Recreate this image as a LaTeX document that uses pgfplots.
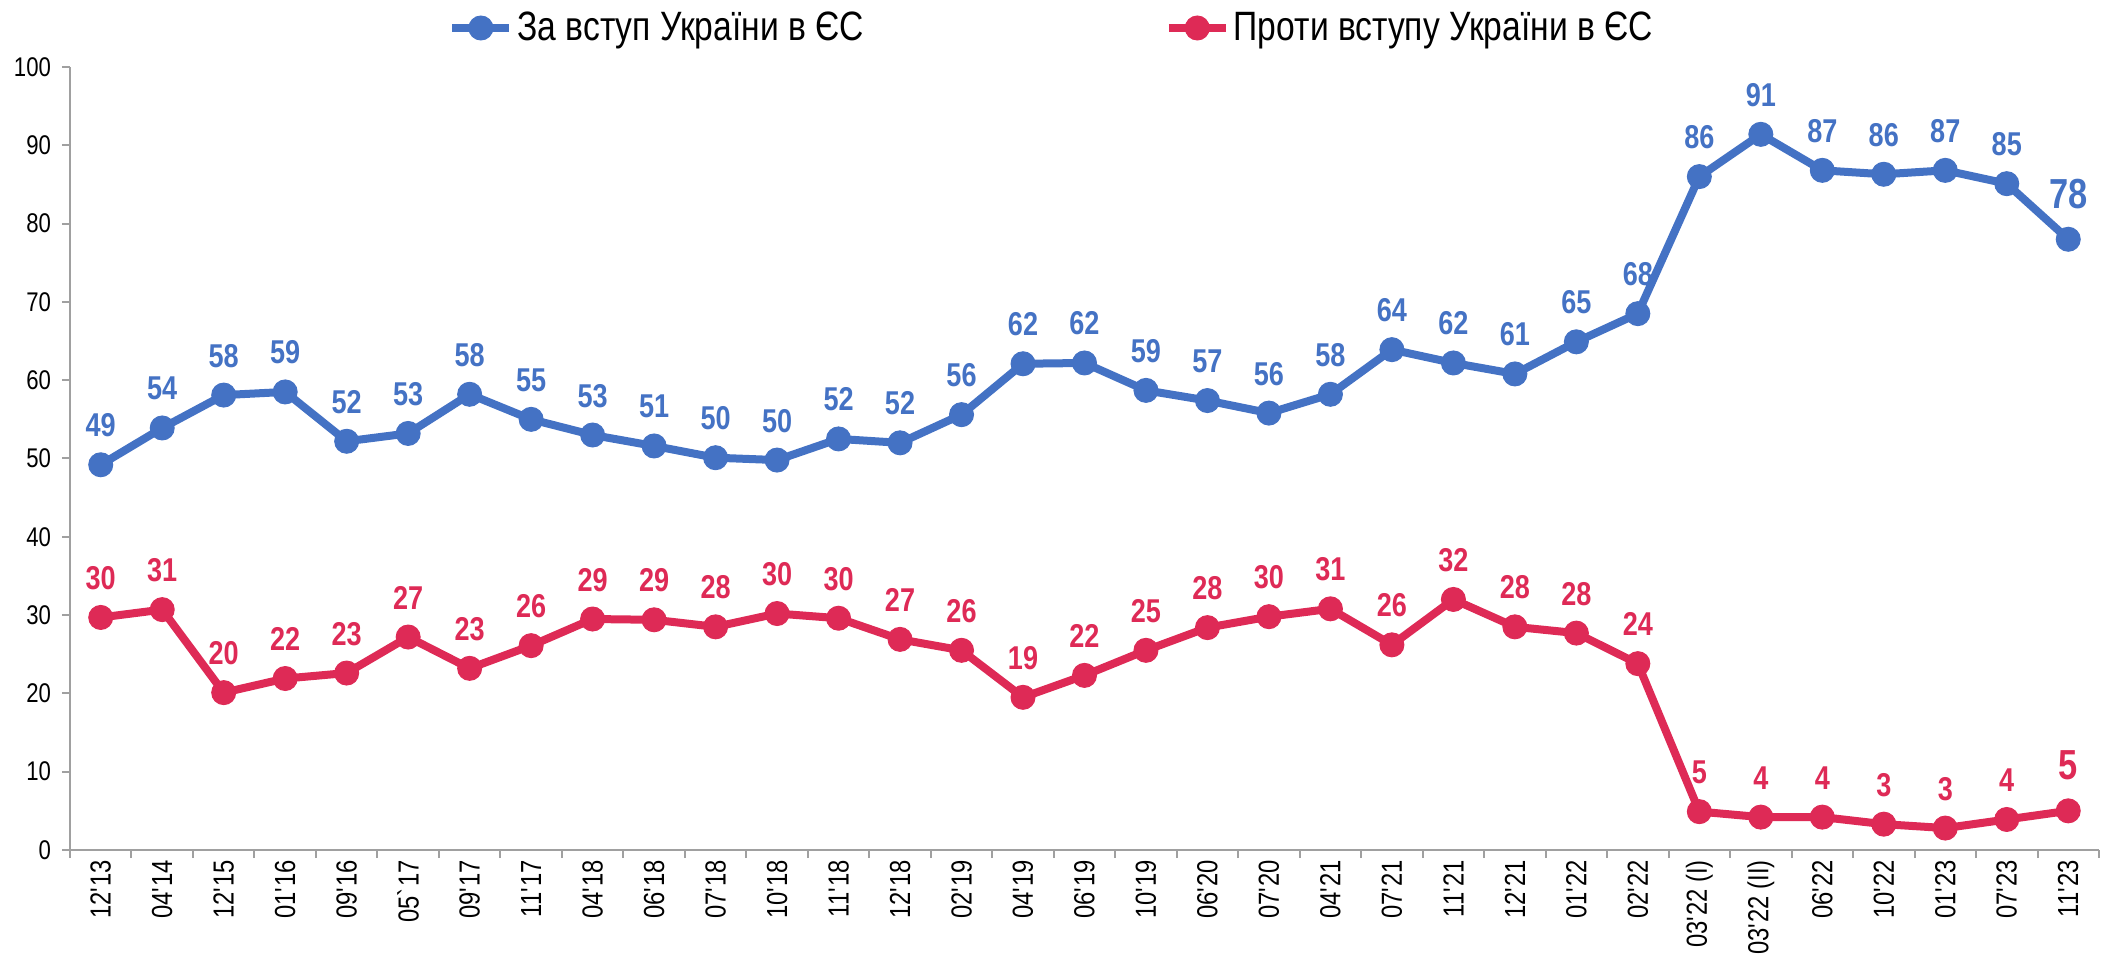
\documentclass[border=0pt]{standalone}
\usepackage{fontspec}
\setmainfont{Liberation Sans}
\newfontfamily\narrow{Liberation Sans}[FakeStretch=0.82]
\usepackage{pgfplots}
\pgfplotsset{compat=1.18}
\definecolor{cblue}{RGB}{68,114,196}
\definecolor{cred}{RGB}{222,42,86}
\definecolor{axgray}{RGB}{160,160,160}
\newcommand{\q}{\textquotesingle}
\begin{document}
\begin{tikzpicture}
\path[use as bounding box] (-35pt,-57pt) rectangle (1016.5pt,425pt);
\begin{axis}[
  at={(0,0)}, anchor=south west,
  scale only axis, width=1014.5pt, height=391.5pt,
  xmin=-0.5, xmax=32.5, ymin=0, ymax=100,
  axis x line*=bottom, axis y line*=left,
  axis line style={axgray, line width=1pt},
  xtick={-0.5,0.5,...,32.5},
  x tick label as interval,
  xticklabels={12\q13,04\q14,12\q15,01\q16,09\q16,05\textasciigrave17,09\q17,11\q17,04\q18,06\q18,07\q18,10\q18,11\q18,12\q18,02\q19,04\q19,06\q19,10\q19,06\q20,07\q20,04\q21,07\q21,11\q21,12\q21,01\q22,02\q22,03\q22 (I),03\q22 (II),06\q22,10\q22,01\q23,07\q23,11\q23},
  ytick={0,10,...,100},
  tick align=outside, major tick length=4pt,
  tick style={axgray, line width=1pt},
  /pgf/number format/assume math mode=true,
  x tick label style={rotate=90, anchor=east, font=\narrow\fontsize{14.5}{14.5}\selectfont, inner sep=1pt},
  y tick label style={font=\narrow\fontsize{13.5}{13.5}\selectfont, xshift=-2pt},
  clip=false,
  legend columns=2,
  legend style={draw=none, fill=none, at={(0,1)}, anchor=west, xshift=186pt, yshift=19.5pt,
    font=\narrow\fontsize{20.5}{20.5}\selectfont,
    /tikz/every even column/.append style={column sep=148.5pt}},
  legend image code/.code={\draw[#1, mark repeat=2, mark phase=2] plot coordinates {(0pt,0pt) (14.25pt,0pt) (28.5pt,0pt)};},
  point meta=explicit symbolic,
]
\addplot[cblue, line width=4pt, mark=*, mark size=6pt, mark options={solid, line width=0.5pt, fill=cblue, draw=cblue},
  nodes near coords,
  every node near coord/.append style={anchor=base, yshift=14pt, inner sep=0pt, text=cblue, font=\narrow\bfseries\fontsize{16.5}{16.5}\selectfont}]
table[x=x, y=y, meta=l] {
x y l
0 49.2 49
1 53.9 54
2 58.1 58
3 58.5 59
4 52.2 52
5 53.2 53
6 58.2 58
7 55.0 55
8 53.0 53
9 51.6 51
10 50.1 50
11 49.8 50
12 52.5 52
13 52.0 52
14 55.6 56
15 62.1 62
16 62.2 62
17 58.7 59
18 57.4 57
19 55.8 56
20 58.2 58
21 63.9 64
22 62.2 62
23 60.8 61
24 64.9 65
25 68.5 68
26 86.0 86
27 91.4 91
28 86.8 87
29 86.3 86
30 86.8 87
31 85.1 85
32 78.0 {}
};
\addlegendentry{За вступ України в ЄС}
\addplot[cred, line width=4pt, mark=*, mark size=6pt, mark options={solid, line width=0.5pt, fill=cred, draw=cred},
  nodes near coords,
  every node near coord/.append style={anchor=base, yshift=14pt, inner sep=0pt, text=cred, font=\narrow\bfseries\fontsize{16.5}{16.5}\selectfont}]
table[x=x, y=y, meta=l] {
x y l
0 29.7 30
1 30.7 31
2 20.1 20
3 21.9 22
4 22.6 23
5 27.2 27
6 23.2 23
7 26.1 26
8 29.5 29
9 29.4 29
10 28.5 28
11 30.2 30
12 29.6 30
13 26.9 27
14 25.5 26
15 19.5 19
16 22.3 22
17 25.5 25
18 28.4 28
19 29.8 30
20 30.8 31
21 26.2 26
22 32.0 32
23 28.5 28
24 27.7 28
25 23.8 24
26 4.9 5
27 4.2 4
28 4.2 4
29 3.3 3
30 2.8 3
31 3.9 4
32 5.0 {}
};
\addlegendentry{Проти вступу України в ЄС}
\addplot[forget plot, draw=none, mark=none, nodes near coords,
  every node near coord/.append style={anchor=base, yshift=15.5pt, inner sep=0pt, text=cblue, font=\narrow\bfseries\fontsize{21}{21}\selectfont}]
table[x=x, y=y, meta=l] {
x y l
32 78.0 78
};
\addplot[forget plot, draw=none, mark=none, nodes near coords,
  every node near coord/.append style={anchor=base, yshift=15.5pt, inner sep=0pt, text=cred, font=\narrow\bfseries\fontsize{21}{21}\selectfont}]
table[x=x, y=y, meta=l] {
x y l
32 5.0 5
};
\end{axis}
\end{tikzpicture}
\end{document}
